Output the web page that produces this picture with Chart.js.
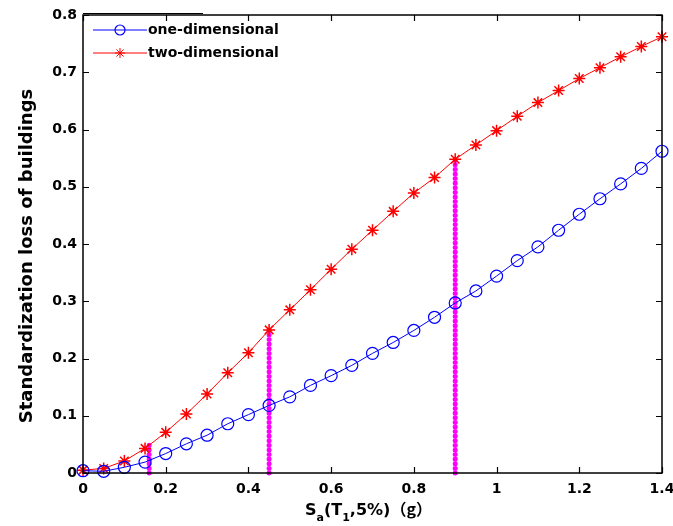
<!DOCTYPE html>
<html>
<head>
<meta charset="utf-8">
<script src="https://cdn.jsdelivr.net/npm/chart.js@4/dist/chart.umd.min.js"></script>
<style>
  html, body { margin: 0; padding: 0; background: #fff; }
  #c { display: block; }
</style>
</head>
<body>
<canvas id="c" width="673" height="526"></canvas>
<script>
var sa = [0, 0.05, 0.1, 0.15, 0.2, 0.25, 0.3, 0.35, 0.4, 0.45, 0.5, 0.55, 0.6, 0.65, 0.7,
          0.75, 0.8, 0.85, 0.9, 0.95, 1.0, 1.05, 1.1, 1.15, 1.2, 1.25, 1.3, 1.35, 1.4];
var oneDim = [0.004, 0.003, 0.010, 0.019, 0.034, 0.051, 0.066, 0.086, 0.102, 0.118, 0.133, 0.153, 0.170, 0.188, 0.209,
              0.228, 0.249, 0.272, 0.297, 0.318, 0.344, 0.371, 0.395, 0.424, 0.452, 0.479, 0.505, 0.532, 0.562];
var twoDim = [0.005, 0.008, 0.021, 0.043, 0.071, 0.103, 0.138, 0.175, 0.210, 0.250, 0.285, 0.320, 0.356, 0.391, 0.424,
              0.457, 0.489, 0.516, 0.548, 0.573, 0.598, 0.623, 0.647, 0.668, 0.689, 0.708, 0.727, 0.745, 0.762];
// dotted magenta markers: x position and height
var markX = [0.16, 0.45, 0.9];
var markTop = [0.05, 0.25, 0.55];
var xTicks = [0, 0.2, 0.4, 0.6, 0.8, 1, 1.2, 1.4];
var yTicks = [0, 0.1, 0.2, 0.3, 0.4, 0.5, 0.6, 0.7, 0.8];

function pts(xs, ys) {
    return xs.map(function(v, i) { return {x: v, y: ys[i]}; });
}

var datasets = [];
markX.forEach(function(m, i) {
    datasets.push({
        label: 'mark' + i,
        data: [{x: m, y: 0}, {x: m, y: markTop[i]}],
        borderColor: '#ff00ff',
        borderWidth: 5,
        borderDash: [0.1, 4.5],
        borderCapStyle: 'round',
        pointRadius: 0,
        clip: false,
        order: 3
    });
});
datasets.push({
    label: 'one-dimensional',
    data: pts(sa, oneDim),
    borderColor: '#0000ff',
    borderWidth: 1,
    pointStyle: 'circle',
    pointRadius: 6,
    pointBorderColor: '#0000ff',
    pointBackgroundColor: 'rgba(0,0,0,0)',
    pointBorderWidth: 1.2,
    clip: false,
    order: 1
});
datasets.push({
    label: 'two-dimensional',
    data: pts(sa, twoDim),
    borderColor: '#ff0000',
    borderWidth: 1,
    pointStyle: 'star',
    pointRadius: 6,
    pointBorderColor: '#ff0000',
    pointBorderWidth: 1.5,
    clip: false,
    order: 2
});

var boxPlugin = {
    id: 'box',
    afterDraw: function(chart) {
        var ctx = chart.ctx, a = chart.chartArea;
        var x = chart.scales.x, y = chart.scales.y;
        ctx.save();
        ctx.strokeStyle = '#000';
        ctx.lineWidth = 1.5;
        ctx.strokeRect(a.left, a.top, a.right - a.left, a.bottom - a.top);
        ctx.lineWidth = 1.2;
        ctx.beginPath();
        xTicks.forEach(function(v) {
            var p = Math.round(x.getPixelForValue(v)) + 0.5;
            ctx.moveTo(p, a.bottom); ctx.lineTo(p, a.bottom - 6);
            ctx.moveTo(p, a.top); ctx.lineTo(p, a.top + 6);
        });
        yTicks.forEach(function(v) {
            var p = Math.round(y.getPixelForValue(v)) + 0.5;
            ctx.moveTo(a.left, p); ctx.lineTo(a.left + 6, p);
            ctx.moveTo(a.right, p); ctx.lineTo(a.right - 6, p);
        });
        ctx.stroke();

        // legend
        ctx.lineWidth = 1;
        ctx.beginPath();
        ctx.moveTo(a.left, a.top - 1.5); ctx.lineTo(203, a.top - 1.5);
        ctx.stroke();
        ctx.font = 'bold 14px "DejaVu Sans"';
        ctx.textBaseline = 'middle';
        ctx.fillStyle = '#000';
        var rows = [{y: 30, c: '#0000ff', t: 'one-dimensional'}, {y: 53, c: '#ff0000', t: 'two-dimensional'}];
        rows.forEach(function(r, i) {
            ctx.strokeStyle = r.c;
            ctx.lineWidth = 1;
            ctx.beginPath();
            ctx.moveTo(93, r.y); ctx.lineTo(147, r.y);
            ctx.stroke();
            if (i === 0) {
                ctx.lineWidth = 1.2;
                ctx.beginPath();
                ctx.arc(120, r.y, 5, 0, Math.PI * 2);
                ctx.stroke();
            } else {
                Chart.helpers.drawPoint(ctx, {pointStyle: 'star', radius: 5, borderWidth: 1.5}, 120, r.y);
            }
            ctx.fillText(r.t, 148, r.y);
        });

        // y axis title
        ctx.save();
        ctx.translate(27, 256);
        ctx.rotate(-Math.PI / 2);
        ctx.textAlign = 'center';
        ctx.textBaseline = 'middle';
        ctx.font = 'bold 18px "DejaVu Sans"';
        ctx.fillText('Standardization loss of buildings', 0, 0);
        ctx.restore();

        // x axis title with subscripts
        var parts = [['S', 0], ['a', 1], ['(T', 0], ['1', 1], [',5%)', 0], ['\uff08g\uff09', 0]];
        var big = 'bold 16px "DejaVu Sans"', small = 'bold 11px "DejaVu Sans"', cjk = 'bold 16px "Noto Sans CJK SC"';
        var cx = 305;
        ctx.textBaseline = 'alphabetic';
        ctx.textAlign = 'left';
        parts.forEach(function(p) {
            ctx.font = p[1] ? small : (p[0].charAt(0) === '\uff08' ? cjk : big);
            ctx.fillText(p[0], cx, p[1] ? 521 : 515);
            cx += ctx.measureText(p[0]).width;
        });
        ctx.restore();
    }
};

new Chart(document.getElementById('c'), {
    type: 'line',
    data: { datasets: datasets },
    options: {
        responsive: false,
        animation: false,
        layout: { padding: { top: 15, right: 11, left: 0, bottom: 0 } },
        plugins: { legend: { display: false }, tooltip: { enabled: false } },
        elements: { line: { tension: 0 } },
        scales: {
            x: {
                type: 'linear',
                min: 0, max: 1.4,
                afterBuildTicks: function(s) { s.ticks = xTicks.map(function(v) { return {value: v}; }); },
                afterFit: function(s) { s.height = 53; s.paddingLeft = 0; s.paddingRight = 0; },
                grid: { drawOnChartArea: false, drawTicks: false },
                border: { display: false },
                ticks: {
                    padding: 8,
                    color: '#000',
                    maxRotation: 0,
                    font: { family: 'DejaVu Sans', weight: 'bold', size: 14 },
                    callback: function(v) { return String(Math.round(v * 10) / 10); }
                }
            },
            y: {
                type: 'linear',
                min: 0, max: 0.8,
                afterBuildTicks: function(s) { s.ticks = yTicks.map(function(v) { return {value: v}; }); },
                afterFit: function(s) { s.width = 83; s.paddingTop = 0; s.paddingBottom = 0; },
                grid: { drawOnChartArea: false, drawTicks: false },
                border: { display: false },
                ticks: {
                    padding: 6,
                    color: '#000',
                    font: { family: 'DejaVu Sans', weight: 'bold', size: 14 },
                    callback: function(v) { return String(Math.round(v * 10) / 10); }
                }
            }
        }
    },
    plugins: [boxPlugin]
});
</script>
</body>
</html>
